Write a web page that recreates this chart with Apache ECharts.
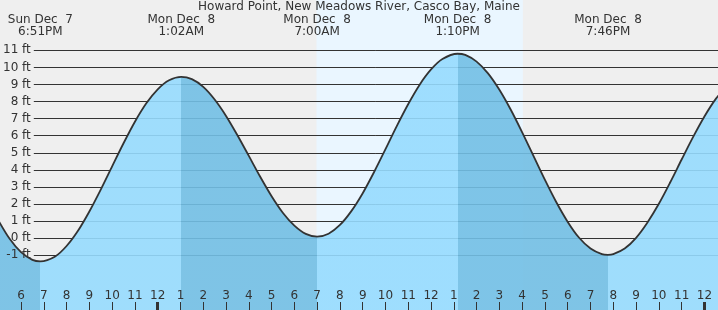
<!DOCTYPE html>
<html>
<head>
<meta charset="utf-8">
<title>Howard Point tides</title>
<script src="https://cdn.jsdelivr.net/npm/echarts@6/dist/echarts.min.js"></script>
<style>
    html, body { margin: 0; padding: 0; background: #efefef; }
    #main { width: 718px; height: 310px; }
</style>
</head>
<body>
<div id="main"></div>
<script>
// time in hours from Mon Dec 8 00:00, height in ft (read every half hour off the curve)
var tideTimes = [-7, -6.5, -6, -5.5, -5.15, -4.5, -4, -3.5, -3, -2.5, -2, -1.5, -1, -0.5, 0, 0.5, 1.033,
    1.5, 2, 2.5, 3, 3.5, 4, 4.5, 5, 5.5, 6, 6.5, 7, 7.5, 8, 8.5, 9, 9.5, 10, 10.5, 11, 11.5, 12, 12.5, 13.167,
    13.5, 14, 14.5, 15, 15.5, 16, 16.5, 17, 17.5, 18, 18.5, 19, 19.5, 19.767,
    20, 20.5, 21, 21.5, 22, 22.5, 23, 23.5, 24, 24.5, 25];
var tideHeights = [1.06, -0.03, -0.81, -1.26, -1.35, -1.06, -0.45, 0.44, 1.57, 2.85, 4.21, 5.56, 6.82, 7.9, 8.72, 9.25, 9.45,
    9.31, 8.86, 8.12, 7.16, 6.03, 4.82, 3.6, 2.46, 1.48, 0.74, 0.26, 0.1, 0.27, 0.78, 1.59, 2.64, 3.88, 5.22, 6.58, 7.86, 8.99, 9.88, 10.49, 10.8,
    10.73, 10.34, 9.65, 8.69, 7.52, 6.2, 4.81, 3.42, 2.11, 0.96, 0.03, -0.6, -0.93, -0.97,
    -0.93, -0.6, 0.03, 0.93, 2.02, 3.28, 4.61, 5.92, 7.13, 8.16, 8.94];

// high / low tides
var extremeTimes = [-5.15, 1.033, 7.0, 13.167, 19.767];
var extremeDays = ['Sun Dec  7', 'Mon Dec  8', 'Mon Dec  8', 'Mon Dec  8', 'Mon Dec  8'];
var extremeClock = ['6:51PM', '1:02AM', '7:00AM', '1:10PM', '7:46PM'];

var hourTicks = [-6, -5, -4, -3, -2, -1, 0, 1, 2, 3, 4, 5, 6, 7, 8, 9, 10, 11, 12,
    13, 14, 15, 16, 17, 18, 19, 20, 21, 22, 23, 24];
var midnightTicks = [0, 24];

var sunrise = 6.97;
var sunset = 16.03;

var textColor = '#333';
var fontName = 'DejaVu Sans';

// pixel layout of the picture
var hourPx = 22.78, midnightPx = 157.7;
var ftPx = 17.09, zeroFtPx = 238.3;
var xMin = -midnightPx / hourPx;
var xMax = (718 - midnightPx) / hourPx;
var yMin = -(310 - zeroFtPx) / ftPx;
var yMax = zeroFtPx / ftPx;

var risingColor = '#96dbfe';
var fallingColor = '#72bfe5';

var pieces = [{lt: extremeTimes[0], color: fallingColor}];
for (var i = 0; i < extremeTimes.length; i++) {
    var p = {gte: extremeTimes[i], color: i % 2 == 0 ? risingColor : fallingColor};
    if (i + 1 < extremeTimes.length) {
        p.lt = extremeTimes[i + 1];
    }
    pieces.push(p);
}

var tideData = tideTimes.map(function (t, i) {
    return [t, tideHeights[i]];
});

function hourLabel(v) {
    var h = ((Math.round(v) % 12) + 12) % 12;
    return h == 0 ? '12' : String(h);
}

function extremeLabel(v) {
    var best = 0;
    for (var i = 1; i < extremeTimes.length; i++) {
        if (Math.abs(extremeTimes[i] - v) < Math.abs(extremeTimes[best] - v)) {
            best = i;
        }
    }
    return extremeDays[best] + '\n' + extremeClock[best];
}

var ftAxis = {
    type: 'value', gridIndex: 1, position: 'left', min: -1, max: 11, interval: 1,
    axisLine: {show: false, onZero: false},
    axisTick: {show: false}
};

var option = {
    animation: false,
    backgroundColor: '#efefef',
    textStyle: {fontFamily: fontName, fontSize: 12, color: textColor},
    title: {
        text: 'Howard Point, New Meadows River, Casco Bay, Maine',
        left: 'center',
        top: 1,
        padding: 0,
        textStyle: {fontSize: 12, fontWeight: 'normal', color: textColor, fontFamily: fontName}
    },
    grid: [
        {left: 0, right: 0, top: 0, bottom: 0},
        {left: 29, right: 0, top: 50.3, bottom: 310 - 255.3}
    ],
    visualMap: {
        show: false,
        type: 'piecewise',
        seriesIndex: 0,
        dimension: 0,
        pieces: pieces
    },
    xAxis: [
        {
            type: 'value', gridIndex: 0, position: 'bottom', min: xMin, max: xMax, z: 5,
            axisLine: {show: false, onZero: false},
            splitLine: {show: false},
            axisTick: {show: true, inside: true, length: 8, customValues: hourTicks, lineStyle: {color: textColor}},
            axisLabel: {
                inside: true, margin: 8, customValues: hourTicks, color: textColor,
                fontSize: 12, fontFamily: fontName, formatter: hourLabel
            }
        },
        {
            type: 'value', gridIndex: 0, position: 'top', min: xMin, max: xMax, z: 5,
            axisLine: {show: false, onZero: false},
            splitLine: {show: false},
            axisTick: {show: false},
            axisLabel: {
                inside: true, margin: 14, customValues: extremeTimes, color: textColor,
                fontSize: 12, lineHeight: 12, fontFamily: fontName, formatter: extremeLabel
            }
        },
        {
            type: 'value', gridIndex: 0, position: 'bottom', min: xMin, max: xMax, z: 5,
            axisLine: {show: false, onZero: false},
            splitLine: {show: false},
            axisTick: {show: true, inside: true, length: 8, customValues: midnightTicks, lineStyle: {color: textColor, width: 3}},
            axisLabel: {show: false}
        },
        {type: 'value', gridIndex: 1, min: 0, max: 1, show: false}
    ],
    yAxis: [
        {type: 'value', gridIndex: 0, min: yMin, max: yMax, show: false},
        // grid lines, under the water
        echarts.util.merge({
            z: 1,
            splitLine: {show: true, lineStyle: {color: textColor, width: 1}},
            axisLabel: {show: false}
        }, ftAxis),
        // ft labels, over the water
        echarts.util.merge({
            z: 2.5,
            splitLine: {show: false},
            axisLabel: {margin: 3, color: textColor, fontSize: 12, fontFamily: fontName, formatter: '{value} ft'}
        }, ftAxis)
    ],
    series: [
        {
            type: 'line',
            xAxisIndex: 0,
            yAxisIndex: 0,
            z: 2,
            data: tideData,
            smooth: 0.3,
            symbol: 'none',
            lineStyle: {width: 0},
            areaStyle: {origin: 'start', opacity: 0.9},
            markArea: {
                silent: true,
                z: 0,
                itemStyle: {color: '#eaf6ff'},
                data: [[{xAxis: sunrise}, {xAxis: sunset}]]
            }
        },
        {
            type: 'line',
            xAxisIndex: 0,
            yAxisIndex: 0,
            z: 3,
            data: tideData,
            smooth: 0.3,
            symbol: 'none',
            lineStyle: {color: textColor, width: 1.8}
        }
    ]
};

var chart = echarts.init(document.getElementById('main'));
chart.setOption(option);
</script>
</body>
</html>
